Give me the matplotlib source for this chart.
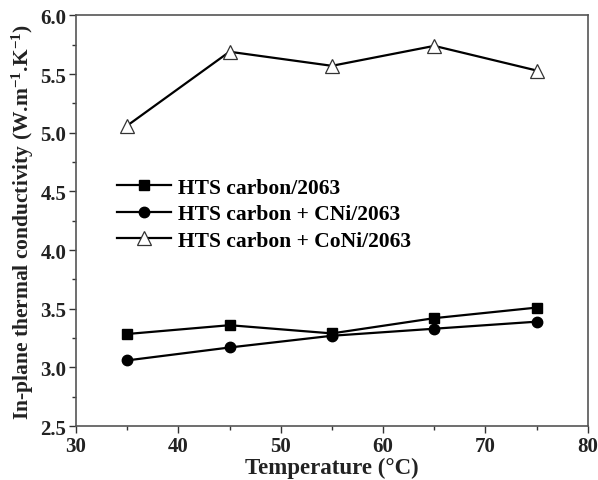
import matplotlib
matplotlib.use("Agg")
import matplotlib.pyplot as plt
from matplotlib.ticker import MultipleLocator

plt.rcParams['font.family'] = ['Liberation Serif', 'DejaVu Serif']
plt.rcParams['font.weight'] = 'bold'
plt.rcParams['mathtext.fontset'] = 'custom'
plt.rcParams['mathtext.rm'] = 'Liberation Serif:bold'
plt.rcParams['mathtext.bf'] = 'Liberation Serif:bold'
plt.rcParams['mathtext.default'] = 'rm'

temperature = [35, 45, 55, 65, 75]
hts_carbon = [3.285, 3.36, 3.29, 3.42, 3.51]
hts_cni = [3.06, 3.17, 3.27, 3.33, 3.39]
hts_coni = [5.06, 5.69, 5.57, 5.74, 5.53]
labels = ["HTS carbon/2063", "HTS carbon + CNi/2063", "HTS carbon + CoNi/2063"]

fig = plt.figure(figsize=(5.98, 4.81), dpi=100)
ax = fig.add_axes([0.127, 0.112, 0.856, 0.854])

ax.plot(temperature, hts_carbon, color='black', lw=1.6, marker='s', ms=7, label=labels[0])
ax.plot(temperature, hts_cni, color='black', lw=1.6, marker='o', ms=7.5, label=labels[1])
ax.plot(temperature, hts_coni, color='black', lw=1.6, marker='^', ms=10,
        markerfacecolor='white', markeredgecolor='#333333', markeredgewidth=0.9, label=labels[2])

ax.set_xlim(30, 80)
ax.set_ylim(2.5, 6.0)
ax.xaxis.set_major_locator(MultipleLocator(10))
ax.xaxis.set_minor_locator(MultipleLocator(5))
ax.yaxis.set_major_locator(MultipleLocator(0.5))
ax.yaxis.set_minor_locator(MultipleLocator(0.25))
ax.yaxis.set_major_formatter(matplotlib.ticker.FormatStrFormatter('%.1f'))
ax.tick_params(which='major', direction='out', length=5, width=1, labelsize=15, pad=2,
               colors='#333333', labelcolor='#222222')
ax.tick_params(which='minor', direction='out', length=3, width=1, colors='#333333')
for s in ax.spines.values():
    s.set_color('#555555')
    s.set_linewidth(1.2)

ax.set_xlabel("Temperature (\u00b0C)", fontsize=16.5, fontweight='bold', labelpad=1, color='#222222')
ax.set_ylabel(r"In-plane thermal conductivity (W.m$^{-1}$.K$^{-1}$)", fontsize=15.5,
              fontweight='bold', labelpad=3, color='#222222')

ax.legend(loc='upper left', bbox_to_anchor=(0.08, 0.605), frameon=False, borderaxespad=0,
          handlelength=2.5, handletextpad=0.35, labelspacing=0.3, borderpad=0,
          prop={'family': 'Liberation Serif', 'weight': 'bold', 'size': 15.5})

fig.savefig("out.png", dpi=100)
